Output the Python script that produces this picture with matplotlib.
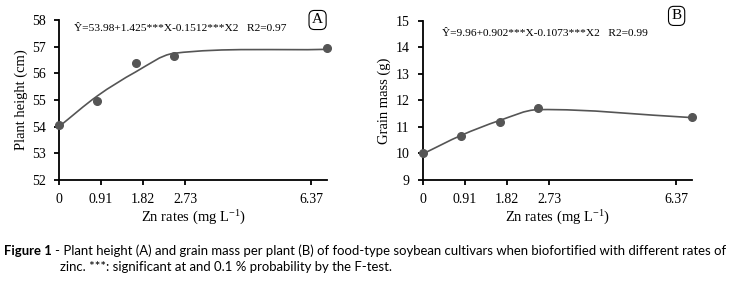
import numpy as np
import matplotlib
matplotlib.use("Agg")
import matplotlib.pyplot as plt
from matplotlib.path import Path
from matplotlib.patches import PathPatch

# Zn rates (mg L-1) and observed / fitted values
zn = [0, 0.91, 1.82, 2.73, 6.37]
height_obs = [54.07, 54.95, 56.37, 56.65, 56.94]
height_fit = [54.0, 55.15, 56.05, 56.75, 56.9]
mass_obs = [10.0, 10.66, 11.2, 11.7, 11.36]
mass_fit = [9.98, 10.68, 11.24, 11.65, 11.35]

tick_pos = [0, 1, 2, 3, 6]
tick_labels = ["0", "0.91", "1.82", "2.73", "6.37"]

gray = "#555555"
plt.rcParams["font.family"] = ["Liberation Serif", "DejaVu Serif"]
plt.rcParams["mathtext.fontset"] = "custom"
plt.rcParams["mathtext.rm"] = "Liberation Serif"
plt.rcParams["mathtext.it"] = "Liberation Serif:italic"


def smooth_path(x, y):
    # smoothed line through the fitted values (cubic Hermite as bezier)
    x = np.asarray(x, float)
    y = np.asarray(y, float)
    n = len(x)
    m = np.empty(n)
    m[0] = (y[1] - y[0]) / (x[1] - x[0])
    m[-1] = (y[-1] - y[-2]) / (x[-1] - x[-2])
    m[1:-1] = (y[2:] - y[:-2]) / (x[2:] - x[:-2])
    verts = [(x[0], y[0])]
    codes = [Path.MOVETO]
    for i in range(n - 1):
        d = (x[i + 1] - x[i]) / 3
        verts += [(x[i] + d, y[i] + m[i] * d),
                  (x[i + 1] - d, y[i + 1] - m[i + 1] * d),
                  (x[i + 1], y[i + 1])]
        codes += [Path.CURVE4] * 3
    return Path(verts, codes)


def panel(ax, obs, fit, ylim, ylabel, eq, eq_xy, letter, letter_xy):
    ax.add_patch(PathPatch(smooth_path(zn, fit), facecolor="none",
                           edgecolor=gray, lw=1.2, clip_on=False))
    ax.plot(zn, obs, "o", color=gray, ms=5.5, clip_on=False, zorder=3)
    ax.set_xlim(0, 6.37)
    ax.set_ylim(*ylim)
    ax.set_yticks(range(ylim[0], ylim[1] + 1))
    ax.set_xticks(tick_pos)
    ax.set_xticklabels(tick_labels)
    for s in ["top", "right"]:
        ax.spines[s].set_visible(False)
    for s in ["left", "bottom"]:
        ax.spines[s].set_linewidth(1.3)
    ax.tick_params(direction="out", length=3.5, width=1.3, labelsize=10,
                   pad=6)
    ax.set_xlabel("Zn rates (mg L$^{\\mathrm{-1}}$)", fontsize=10.5,
                  labelpad=2)
    ax.set_ylabel(ylabel, fontsize=10.5, labelpad=3)
    ax.text(eq_xy[0], eq_xy[1], eq, transform=ax.transAxes, fontsize=8.2,
            va="center", ha="left")
    ax.text(letter_xy[0], letter_xy[1], letter, transform=ax.transAxes,
            fontsize=11, ha="center", va="center",
            bbox=dict(boxstyle="round,pad=0.2,rounding_size=0.35",
                      fc="white", ec="black", lw=0.8))


fig = plt.figure(figsize=(7.29, 2.84), dpi=100)
ax1 = fig.add_axes([0.0809, 0.3662, 0.3676, 0.5634])
ax2 = fig.add_axes([0.5798, 0.3662, 0.369, 0.561])

panel(ax1, height_obs, height_fit, (52, 58), "Plant height (cm)",
      "Ŷ=53.98+1.425***X-0.1512***X2   R2=0.97", (0.056, 0.944),
      "A", (0.965, 1.0))
panel(ax2, mass_obs, mass_fit, (9, 15), "Grain mass (g)",
      "Ŷ=9.96+0.902***X-0.1073***X2   R2=0.99", (0.071, 0.918),
      "B", (0.944, 1.03))

# caption, sized so the first line spans the figure width
cap = ["Lato", "DejaVu Sans"]
line1 = ("- Plant height (A) and grain mass per plant (B) of food-type "
         "soybean cultivars when biofortified with different rates of")
line2 = "zinc. ***: significant at and 0.1 % probability by the F-test."
W = 729.0
x0, x_end = 3.5, 725.0

t_bold = fig.text(x0 / W, 1 - 251 / 284, "Figure 1", family=cap,
                  fontsize=10, fontweight="bold", va="center")
t_rest = fig.text(0, 1 - 251 / 284, line1, family=cap, fontsize=10,
                  va="center")
r = fig.canvas.get_renderer()
wb = t_bold.get_window_extent(r).width
wr = t_rest.get_window_extent(r).width
gap = 4.0
size = 10 * (x_end - x0 - gap) / (wb + wr)
t_bold.set_fontsize(size)
t_rest.set_fontsize(size)
wb = t_bold.get_window_extent(r).width
t_rest.set_x((x0 + wb + gap) / W)
fig.text(60 / W, 1 - 267 / 284, line2, family=cap, fontsize=size,
         va="center")

fig.savefig("out.png", dpi=100)
